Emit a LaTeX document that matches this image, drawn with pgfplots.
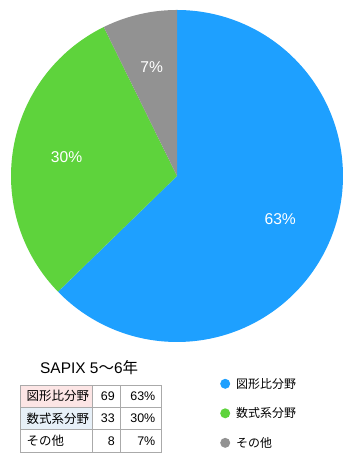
\documentclass[border=0pt]{standalone}
\usepackage{fontspec}
\usepackage{pgfplots}
\pgfplotsset{compat=1.18}
\setmainfont{Liberation Sans}
\newfontfamily\jp{Noto Sans CJK JP}
\definecolor{piblue}{RGB}{30,160,255}
\definecolor{pigreen}{RGB}{94,211,60}
\definecolor{pigray}{RGB}{146,146,146}
\definecolor{rowpink}{RGB}{252,229,229}
\definecolor{rowblue}{RGB}{231,240,248}
\definecolor{tabline}{RGB}{170,170,170}
\begin{document}
\begin{tikzpicture}[x=1bp,y=1bp]
\path[use as bounding box] (0,0) rectangle (354,474);
\def\va{69}\def\vb{33}\def\vc{8}
\pgfmathsetmacro\tot{\va+\vb+\vc}
\pgfmathsetmacro\aA{90}
\pgfmathsetmacro\aB{90-\va/\tot*360}
\pgfmathsetmacro\aC{\aB-\vb/\tot*360}
\pgfmathsetmacro\aD{-270}
\pgfmathsetmacro\mA{(\aA+\aB)/2}
\pgfmathsetmacro\mB{(\aB+\aC)/2}
\pgfmathsetmacro\mC{(\aC+\aD)/2}
\begin{axis}[at={(177bp,298bp)}, anchor=center, width=332bp, height=332bp,
  scale only axis, xmin=-1, xmax=1, ymin=-1, ymax=1, hide axis, clip=false,
  legend style={at={(0.6295,-0.108)}, anchor=north west, draw=none, fill=none,
    inner sep=0pt, row sep=18bp, font=\jp\fontsize{12}{14}\selectfont,
    nodes={inner sep=0pt, anchor=west}, column sep=6bp},
  legend cell align=left]
\addplot[fill=piblue, draw=none, domain=\aB:\aA, samples=150, variable=\t,
  legend image code/.code={\fill[piblue] (5bp,0) circle (5bp);}]
  ({cos(\t)},{sin(\t)}) -- (axis cs:0,0) -- cycle;
\addlegendentry{図形比分野}
\addplot[fill=pigreen, draw=none, domain=\aC:\aB, samples=80, variable=\t,
  legend image code/.code={\fill[pigreen] (5bp,0) circle (5bp);}]
  ({cos(\t)},{sin(\t)}) -- (axis cs:0,0) -- cycle;
\addlegendentry{数式系分野}
\addplot[fill=pigray, draw=none, domain=\aD:\aC, samples=30, variable=\t,
  legend image code/.code={\fill[pigray] (5bp,0) circle (5bp);}]
  ({cos(\t)},{sin(\t)}) -- (axis cs:0,0) -- cycle;
\addlegendentry{その他}
\node[white, font=\fontsize{15.7}{17}\selectfont] at (axis cs:{0.675*cos(\mA)},{0.675*sin(\mA)}) {63\%};
\node[white, font=\fontsize{15.7}{17}\selectfont] at (axis cs:{0.675*cos(\mB)},{0.675*sin(\mB)}) {30\%};
\node[white, font=\fontsize{15.7}{17}\selectfont] at (axis cs:{0.675*cos(\mC)},{0.675*sin(\mC)}) {7\%};
\end{axis}
% title
\node[anchor=west, inner sep=0pt, font=\fontsize{15.5}{18}\selectfont] at (40,106) {SAPIX 5{\jp 〜}6{\jp 年}};
% table
\fill[rowpink] (20.7,89) rectangle (92.7,66.7);
\fill[rowblue] (20.7,66.7) rectangle (92.7,44.7);
\draw[tabline, line width=0.8bp] (20.7,21.3) rectangle (161,89);
\draw[tabline, line width=0.8bp] (20.7,66.7) -- (161,66.7);
\draw[tabline, line width=0.8bp] (20.7,44.7) -- (161,44.7);
\draw[tabline, line width=0.8bp] (92.7,21.3) -- (92.7,89);
\draw[tabline, line width=0.8bp] (120,21.3) -- (120,89);
\begin{scope}[every node/.style={inner sep=0pt, font=\fontsize{12.5}{14}\selectfont}]
\node[anchor=west, font=\jp\fontsize{12.5}{14}\selectfont] at (26.5,77.8) {図形比分野};
\node[anchor=west, font=\jp\fontsize{12.5}{14}\selectfont] at (26.5,55.7) {数式系分野};
\node[anchor=west, font=\jp\fontsize{12.5}{14}\selectfont] at (26.5,33) {その他};
\node[anchor=east] at (115,77.8) {69};
\node[anchor=east] at (115,55.7) {33};
\node[anchor=east] at (115,33) {8};
\node[anchor=east] at (155.5,77.8) {63\%};
\node[anchor=east] at (155.5,55.7) {30\%};
\node[anchor=east] at (155.5,33) {7\%};
\end{scope}
\end{tikzpicture}
\end{document}
